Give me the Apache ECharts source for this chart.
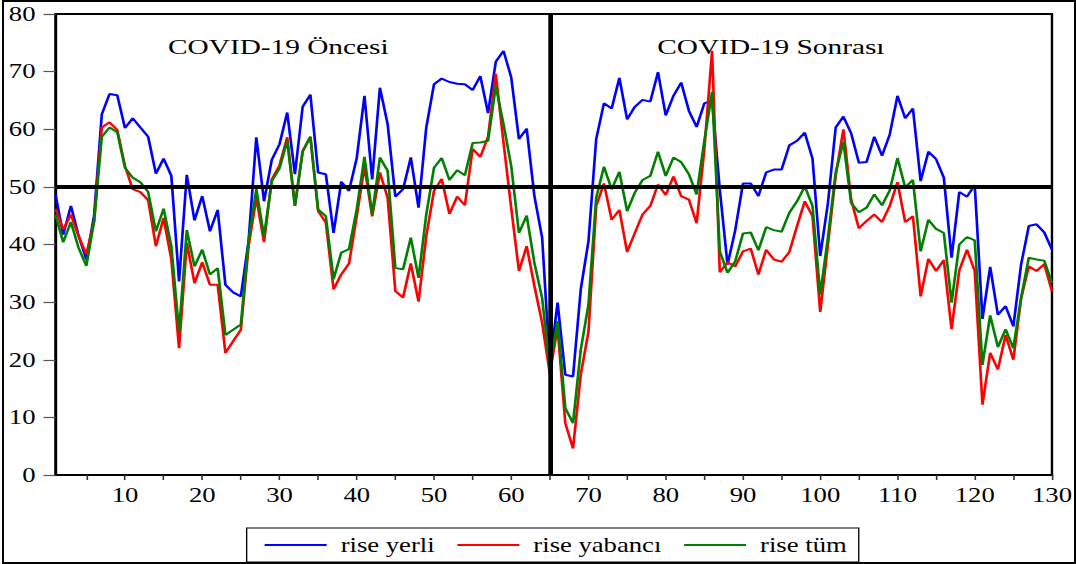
<!DOCTYPE html>
<html>
<head>
<meta charset="utf-8">
<script src="https://cdn.jsdelivr.net/npm/echarts@6/dist/echarts.min.js"></script>
<style>
  html, body { margin: 0; padding: 0; background: #fff; }
  #page { position: relative; width: 1076px; height: 564px; overflow: hidden; background: #fff; }
  #frame { position: absolute; left: 2px; top: 0; width: 1074px; height: 564px; box-sizing: border-box; border: 2px solid #000; pointer-events: none; }
  /* the original graph is stretched sideways, so draw narrow and stretch */
  #chart { position: absolute; left: 0; top: 0; width: 807px; height: 564px; transform: scaleX(1.3333); transform-origin: 0 0; }
</style>
</head>
<body>
<div id="page">
  <div id="chart"></div>
  <div id="frame"></div>
</div>
<script>
const periods = Array.from({ length: 130 }, (_, i) => String(i + 1));

const riseYerli = [
  48.7, 41.7, 46.7, 41.5, 37.4, 45.0, 62.6, 66.1, 65.9, 60.2,
  61.9, 60.3, 58.7, 52.3, 54.9, 51.9, 33.6, 52.1, 44.2, 48.4,
  42.3, 46.0, 33.0, 31.7, 31.0, 40.6, 58.6, 47.5, 54.7, 57.4,
  62.9, 52.2, 63.9, 66.0, 52.5, 52.2, 42.0, 50.9, 49.3, 55.0,
  65.8, 51.3, 67.2, 60.9, 48.3, 49.6, 55.1, 46.4, 60.3, 67.8,
  68.8, 68.2, 67.9, 67.8, 66.8, 69.2, 62.8, 71.7, 73.6, 69.0,
  58.3, 60.1, 48.4, 41.2, 19.0, 29.9, 17.4, 17.1, 32.2, 40.6,
  58.3, 64.5, 63.6, 68.9, 61.7, 63.9, 65.1, 64.8, 69.9, 62.4,
  65.8, 68.1, 63.2, 60.4, 64.5, 65.0, 49.5, 36.5, 42.5, 50.6,
  50.6, 48.4, 52.5, 53.0, 53.0, 57.2, 58.0, 59.4, 54.9, 38.0,
  47.2, 60.3, 62.2, 59.3, 54.2, 54.3, 58.7, 55.4, 59.1, 65.8,
  61.9, 63.6, 51.0, 56.1, 54.8, 51.6, 37.7, 49.1, 48.3, 50.3,
  27.1, 36.1, 27.8, 29.3, 25.8, 36.5, 43.2, 43.5, 42.1, 39.1
];

const riseYabanci = [
  46.2, 42.6, 45.2, 41.4, 38.3, 44.0, 60.3, 61.2, 59.9, 53.6,
  49.6, 49.1, 47.7, 39.7, 44.6, 37.4, 22.0, 40.3, 33.3, 36.9,
  33.0, 33.0, 21.2, 23.2, 25.2, 39.7, 48.1, 40.4, 51.3, 53.7,
  58.6, 46.7, 56.2, 58.7, 45.8, 43.8, 32.2, 34.8, 36.7, 44.9,
  53.5, 44.9, 52.5, 48.1, 31.9, 30.8, 36.7, 30.1, 41.4, 49.3,
  51.4, 45.3, 48.3, 46.8, 56.6, 55.2, 58.7, 69.6, 57.7, 46.3,
  35.4, 39.7, 32.8, 26.4, 17.6, 25.6, 9.0, 4.6, 17.4, 24.9,
  46.7, 50.6, 44.3, 46.0, 38.7, 42.0, 45.2, 46.7, 50.4, 48.6,
  51.8, 48.4, 47.8, 43.7, 56.5, 73.6, 35.2, 36.9, 36.2, 38.8,
  39.3, 34.8, 39.1, 37.4, 37.0, 38.7, 43.2, 47.5, 44.9, 28.3,
  40.0, 51.9, 60.0, 47.8, 42.8, 44.1, 45.2, 43.9, 46.7, 50.8,
  43.9, 44.9, 31.0, 37.5, 35.4, 37.3, 25.3, 35.5, 39.1, 35.4,
  12.2, 21.2, 18.3, 24.3, 20.0, 30.6, 36.2, 35.4, 36.6, 31.9
];

const riseTum = [
  45.2, 40.4, 43.9, 39.4, 36.3, 44.0, 58.7, 60.3, 59.5, 53.3,
  51.6, 50.8, 49.1, 42.3, 46.2, 39.7, 24.9, 42.5, 36.2, 39.1,
  34.8, 35.9, 24.3, 25.2, 26.1, 40.6, 49.6, 41.4, 51.0, 53.2,
  58.0, 46.7, 56.1, 58.7, 46.1, 44.9, 34.0, 38.6, 39.2, 46.1,
  55.2, 45.2, 55.1, 52.8, 35.9, 35.7, 41.2, 34.2, 45.2, 53.3,
  55.0, 51.2, 52.9, 52.0, 57.6, 57.7, 58.0, 67.5, 60.9, 53.6,
  42.0, 45.0, 36.8, 30.7, 18.3, 26.7, 11.6, 9.0, 21.7, 29.6,
  48.1, 53.5, 49.6, 52.6, 45.8, 49.0, 51.2, 51.9, 56.1, 51.9,
  55.1, 54.3, 52.2, 48.7, 58.0, 66.5, 38.8, 35.1, 37.1, 41.9,
  42.1, 39.0, 43.0, 42.5, 42.2, 45.5, 47.5, 50.1, 46.7, 31.3,
  41.2, 52.5, 57.8, 47.2, 45.6, 46.4, 48.7, 46.8, 49.4, 55.0,
  49.9, 51.2, 38.8, 44.3, 42.7, 42.0, 29.9, 40.0, 41.3, 40.7,
  19.1, 27.7, 22.2, 25.3, 22.0, 30.7, 37.7, 37.4, 37.2, 33.3
];

const thresholdLevel = 50;
const breakPeriod = "65";
const periodTitles = ["COVID-19 Öncesi", "COVID-19 Sonrası"];

const serif = "Liberation Serif";
const chart = echarts.init(document.getElementById("chart"), null, { renderer: "svg" });

chart.setOption({
  animation: false,
  backgroundColor: "transparent",
  textStyle: { fontFamily: serif },
  grid: {
    left: 41.6, right: 18, top: 14, bottom: 89,
    show: true, borderColor: "#000", borderWidth: 1.8, backgroundColor: "transparent"
  },
  xAxis: {
    type: "category",
    data: periods,
    boundaryGap: false,
    axisLine: { lineStyle: { color: "#000", width: 1.8 } },
    axisTick: {
      inside: false, length: 5,
      interval: (i) => (i + 1) % 5 === 0,
      lineStyle: { color: "#333", width: 1.2 }
    },
    axisLabel: {
      interval: (i) => (i + 1) % 10 === 0,
      margin: 10,
      color: "#000", fontFamily: serif, fontSize: 20
    },
    splitLine: { show: false }
  },
  yAxis: {
    type: "value",
    min: 0, max: 80, interval: 10,
    axisLine: { show: true, lineStyle: { color: "#000", width: 1.8 } },
    axisTick: { show: true, inside: false, length: 9, lineStyle: { color: "#555", width: 1.2 } },
    axisLabel: { margin: 15, color: "#000", fontFamily: serif, fontSize: 20 },
    splitLine: { show: false }
  },
  legend: {
    left: 185, top: 528,
    orient: "horizontal",
    icon: "rect",
    itemWidth: 46.5, itemHeight: 2,
    itemGap: 17,
    padding: [7, 9, 7, 13.5],
    borderColor: "#000", borderWidth: 1,
    textStyle: { color: "#000", fontFamily: serif, fontSize: 20, padding: [0, 0, 0, 5.5] },
    data: ["rise yerli", "rise yabancı", "rise tüm"]
  },
  graphic: [
    { type: "text", left: 126, top: 36, style: { text: periodTitles[0], fill: "#000", fontFamily: serif, fontSize: 22 } },
    { type: "text", left: 493, top: 36, style: { text: periodTitles[1], fill: "#000", fontFamily: serif, fontSize: 22 } }
  ],
  series: [
    { name: "rise yerli", type: "line", data: riseYerli, symbol: "none",
      lineStyle: { color: "#0000ff", width: 2 }, itemStyle: { color: "#0000ff" } },
    { name: "rise yabancı", type: "line", data: riseYabanci, symbol: "none",
      lineStyle: { color: "#ff0000", width: 2 }, itemStyle: { color: "#ff0000" } },
    { name: "rise tüm", type: "line", data: riseTum, symbol: "none",
      lineStyle: { color: "#008000", width: 2 }, itemStyle: { color: "#008000" },
      markLine: {
        silent: true, symbol: "none", label: { show: false },
        lineStyle: { color: "#000", type: "solid", width: 4 },
        data: [
          { yAxis: thresholdLevel },
          { xAxis: breakPeriod, lineStyle: { width: 3.5 } }
        ]
      }
    }
  ]
});
</script>
</body>
</html>
